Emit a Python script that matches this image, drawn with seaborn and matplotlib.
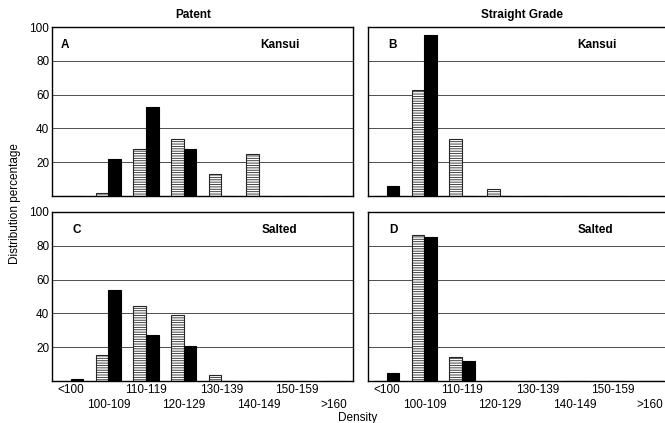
import pandas as pd
import seaborn as sns
import matplotlib.pyplot as plt

# density classes shown on the x axis
categories = ['<100', '100-109', '110-119', '120-129', '130-139', '140-149', '150-159', '>160']

# hatched bars (first series) and solid bars (second series)
patent_kansui_hatched = [0, 1.5, 28, 34, 13, 25, 0, 0]
patent_kansui_solid = [0, 22, 52.5, 28, 0, 0, 0, 0]
straight_kansui_hatched = [0, 63, 34, 4.3, 0, 0, 0, 0]
straight_kansui_solid = [6, 95, 0, 0, 0, 0, 0, 0]
patent_salted_hatched = [0, 15.5, 44.5, 39, 3.5, 0, 0, 0]
patent_salted_solid = [1.4, 54, 27, 20.5, 0, 0, 0, 0]
straight_salted_hatched = [0, 86.5, 14, 0, 0, 0, 0, 0]
straight_salted_solid = [5, 85, 12, 0, 0, 0, 0, 0]

col_titles = ['Patent', 'Straight Grade']
panel_letters = ['A', 'B', 'C', 'D']
row_names = ['Kansui', 'Kansui', 'Salted', 'Salted']


def make_frame(hatched, solid):
    df = pd.DataFrame({
        'density': categories * 2,
        'pct': hatched + solid,
        'series': ['hatched'] * len(categories) + ['solid'] * len(categories),
    })
    return df


panels = [
    make_frame(patent_kansui_hatched, patent_kansui_solid),
    make_frame(straight_kansui_hatched, straight_kansui_solid),
    make_frame(patent_salted_hatched, patent_salted_solid),
    make_frame(straight_salted_hatched, straight_salted_solid),
]

sns.set_style('white')
plt.rcParams['font.family'] = ['Liberation Sans', 'DejaVu Sans']
plt.rcParams['hatch.linewidth'] = 0.6
plt.rcParams['text.color'] = 'black'
plt.rcParams['xtick.color'] = 'black'
plt.rcParams['ytick.color'] = 'black'

fig = plt.figure(figsize=(6.65, 4.23), dpi=100)
W, H = 665.0, 423.0
# axes boxes in pixels: left, top, right, bottom
boxes = [(52, 27, 353, 196), (368, 27, 669, 196),
         (52, 212, 353, 381), (368, 212, 669, 381)]
letter_x = [0.043, 0.08, 0.083, 0.083]
name_x = [0.757, 0.761, 0.754, 0.754]

for i, df in enumerate(panels):
    l, t, r, b = boxes[i]
    ax = fig.add_axes([l / W, 1 - b / H, (r - l) / W, (b - t) / H])
    sns.barplot(data=df, x='density', y='pct', hue='series', order=categories,
                palette={'hatched': 'white', 'solid': 'black'},
                width=0.67, gap=0, edgecolor='black', linewidth=0.8,
                legend=False, ax=ax)
    for bar in ax.containers[0]:
        bar.set_hatch('-------')
        bar.set_edgecolor('0.15')

    ax.set_ylim(0, 100)
    ax.set_xlim(-0.5, len(categories) - 0.5)
    ax.set_yticks([20, 40, 60, 80, 100])
    for yv in [20, 40, 60, 80]:
        ax.axhline(yv, color='0.3', lw=0.7, zorder=0)
    for s in ax.spines.values():
        s.set_color('black')
        s.set_linewidth(1.0)
    ax.tick_params(which='both', length=0, labelsize=8.5, pad=2)
    ax.set_xlabel('')
    ax.set_ylabel('')

    if i % 2 == 0:
        ax.set_yticklabels(['20', '40', '60', '80', '100'])
    else:
        ax.set_yticklabels([])
    if i >= 2:
        # labels alternate between two rows: even classes on top, odd below
        even = list(range(0, len(categories), 2))
        odd = list(range(1, len(categories), 2))
        ax.set_xticks(even)
        ax.set_xticklabels([categories[k] for k in even], fontsize=8.5)
        ax.set_xticks(odd, minor=True)
        ax.set_xticklabels([categories[k] for k in odd], minor=True, fontsize=8.5)
        ax.tick_params(axis='x', which='major', pad=2)
        ax.tick_params(axis='x', which='minor', pad=13)
    else:
        ax.set_xticks(range(len(categories)))
        ax.set_xticklabels([])

    ax.text(letter_x[i], 0.893, panel_letters[i], transform=ax.transAxes,
            ha='center', va='center', fontsize=8.5, fontweight='bold')
    ax.text(name_x[i], 0.893, row_names[i], transform=ax.transAxes,
            ha='center', va='center', fontsize=8.5, fontweight='bold')

fig.text(193 / W, 1 - 15 / H, col_titles[0], ha='center', va='center',
         fontsize=8.5, fontweight='bold')
fig.text(522 / W, 1 - 15 / H, col_titles[1], ha='center', va='center',
         fontsize=8.5, fontweight='bold')
fig.text(15 / W, 1 - 204 / H, 'Distribution percentage', rotation=90,
         ha='center', va='center', fontsize=8.5)
fig.text(358 / W, 1 - 418 / H, 'Density', ha='center', va='center', fontsize=8.5)

fig.savefig('out.png', dpi=100)
